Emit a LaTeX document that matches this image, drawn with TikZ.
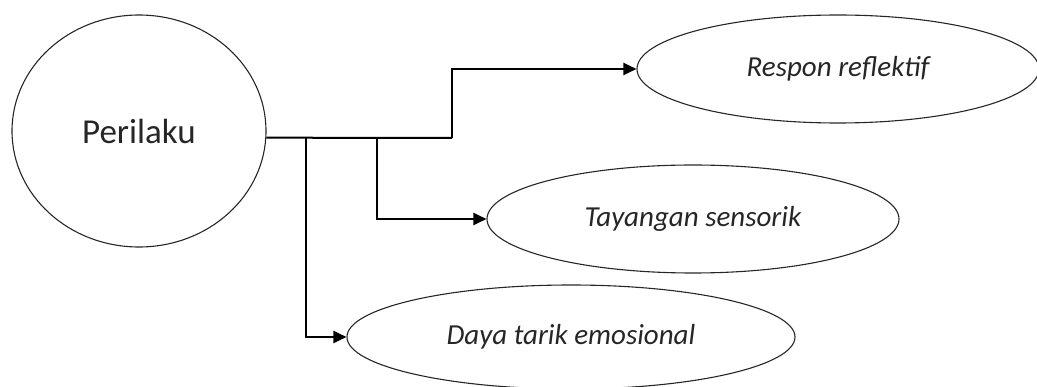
\documentclass[tikz,border=0pt]{standalone}
\usepackage{fontspec}
\setmainfont{Carlito}
\usetikzlibrary{shapes.geometric,arrows.meta}
\begin{document}
\begin{tikzpicture}[x=1pt,y=-1pt,
  oval/.style={draw=black!85,line width=1.1pt,ellipse,inner sep=0pt},
  lbl/.style={font=\fontsize{29}{34}\selectfont\itshape,text=black!85},
  conn/.style={draw=black,line width=2pt,-{Triangle[length=13pt,width=12pt]}},
  trunk/.style={draw=black,line width=2pt}]
\useasboundingbox (0,0) rectangle (1037,387);
\node[oval,minimum width=254pt,minimum height=232pt,font=\fontsize{35}{40}\selectfont,text=black!85] (Perilaku) at (139,131) {Perilaku};
\node[oval,lbl,minimum width=402pt,minimum height=108pt] (Respon) at (838,69) {Respon reflektif};
\node[oval,lbl,minimum width=412pt,minimum height=108pt] (Tay) at (693,219) {Tayangan sensorik};
\node[oval,lbl,minimum width=448pt,minimum height=104pt] (Daya) at (571,337) {Daya tarik emosional};
\coordinate (j1) at (306,138);
\coordinate (j2) at (377,138);
\coordinate (j3) at (452,138);
\draw[trunk] (Perilaku.-3.5) -- (j3);
\draw[conn] (j3) |- (Respon.west);
\draw[conn] (j2) |- (Tay.west);
\draw[conn] (j1) |- (Daya.west);
\end{tikzpicture}
\end{document}
